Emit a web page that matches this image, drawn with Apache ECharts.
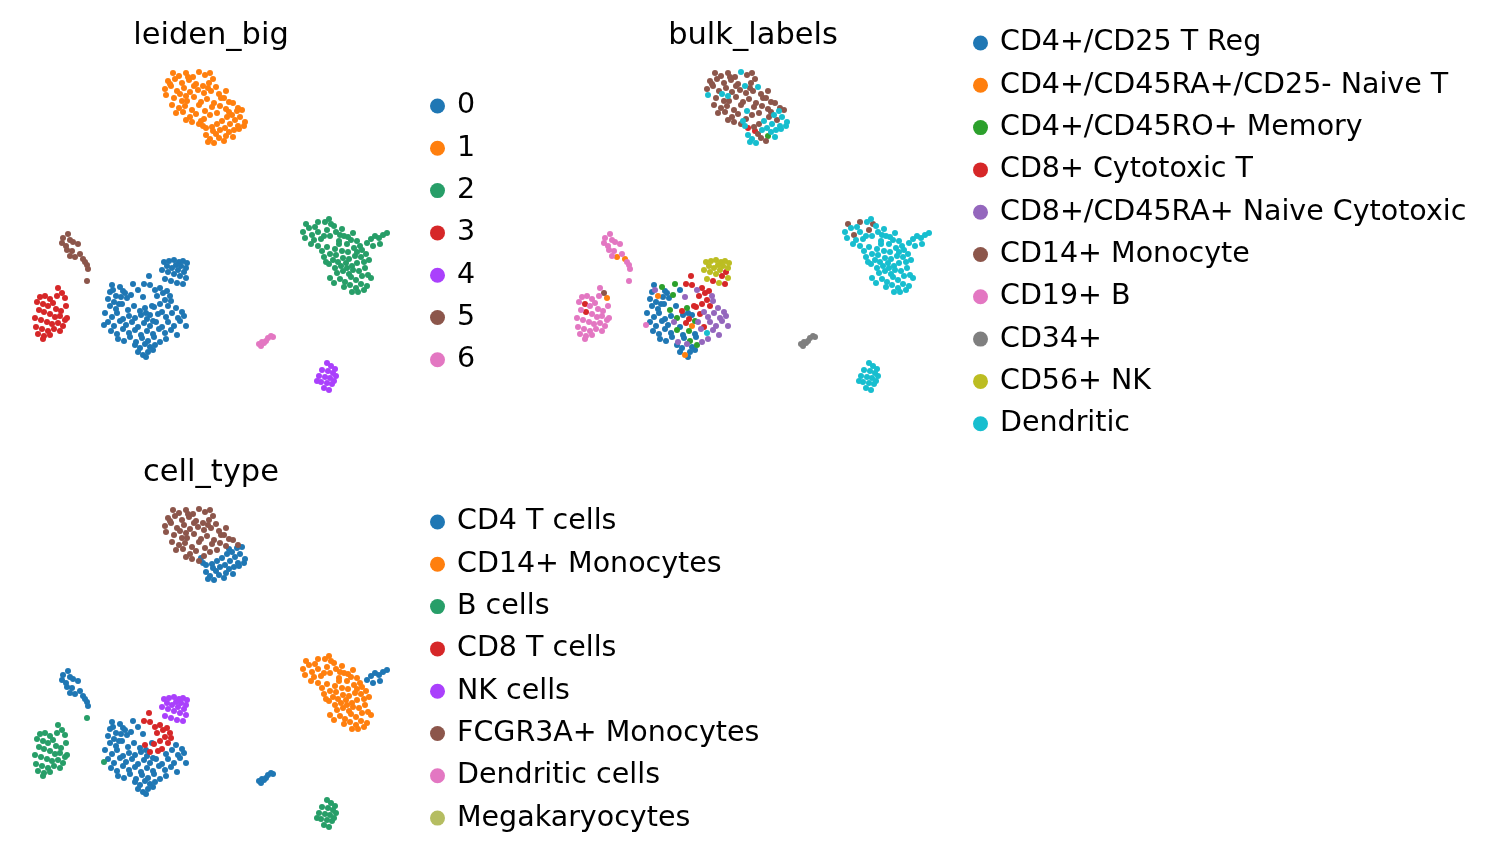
<!DOCTYPE html>
<html>
<head>
<meta charset="utf-8">
<script src="https://cdn.jsdelivr.net/npm/echarts@6/dist/echarts.min.js"></script>
<style>
  html, body { margin: 0; padding: 0; background: #fff; }
  #main { width: 1494px; height: 860px; }
</style>
</head>
<body>
<div id="main"></div>
<script>
// categories and colours of the three colourings
const leidenCats = ['0', '1', '2', '3', '4', '5', '6'];
const leidenColors = ['#1f77b4', '#ff7f0e', '#279e68', '#d62728', '#aa40fc', '#8c564b', '#e377c2'];
const bulkCats = ['CD4+/CD25 T Reg', 'CD4+/CD45RA+/CD25- Naive T', 'CD4+/CD45RO+ Memory', 'CD8+ Cytotoxic T',
  'CD8+/CD45RA+ Naive Cytotoxic', 'CD14+ Monocyte', 'CD19+ B', 'CD34+', 'CD56+ NK', 'Dendritic'];
const bulkColors = ['#1f77b4', '#ff7f0e', '#2ca02c', '#d62728', '#9467bd', '#8c564b', '#e377c2', '#7f7f7f', '#bcbd22', '#17becf'];
const cellCats = ['CD4 T cells', 'CD14+ Monocytes', 'B cells', 'CD8 T cells', 'NK cells',
  'FCGR3A+ Monocytes', 'Dendritic cells', 'Megakaryocytes'];
const cellColors = ['#1f77b4', '#ff7f0e', '#279e68', '#d62728', '#aa40fc', '#8c564b', '#e377c2', '#b5bd61'];

// cells per leiden cluster: [umap1, umap2, bulk label index, cell type index]
const cluster0 = [
  [164,262,8,4],[169,261,8,4],[174,260,8,4],[179,262,8,4],[183,261,8,4],[187,263,8,4],[176,265,8,4],[181,266,8,4],
  [186,268,8,4],[167,266,8,4],[172,268,8,4],[178,270,8,4],[184,272,3,4],[162,270,8,4],[168,272,8,4],[174,274,8,4],
  [180,276,3,4],[186,278,8,4],[171,281,3,4],[177,283,8,4],[183,284,3,4],[165,279,8,4],
  [149,276,3,3],[144,284,3,3],[150,285,3,3],[155,290,4,3],[160,288,3,3],[163,293,3,3],[167,291,3,3],[170,296,4,3],
  [157,296,3,3],[165,300,3,3],[160,304,3,3],[168,306,3,3],[154,307,3,3],[162,312,4,3],[158,314,3,3],[150,315,0,3],
  [145,308,2,3],[171,301,4,3],
  [112,285,0,0],[120,287,2,0],[123,291,0,0],[110,292,0,0],[113,290,4,0],[116,296,1,0],[121,297,0,0],[127,298,0,0],
  [108,299,0,0],[114,302,0,0],[119,304,0,0],[125,293,0,0],[131,295,2,0],[133,284,2,0],[143,297,4,0],[138,290,0,0],
  [110,306,0,0],[116,309,0,0],[122,304,0,0],[128,310,2,0],[134,306,0,0],[140,311,3,0],[146,313,0,0],[152,306,3,0],
  [176,308,4,0],[182,312,4,0],
  [105,313,0,0],[112,317,0,0],[117,313,0,0],[123,319,0,0],[129,316,0,0],[135,318,2,0],[141,315,0,0],[147,319,3,0],
  [153,321,2,0],[166,317,4,0],[172,313,4,0],[178,318,4,0],[184,316,4,0],
  [108,322,0,0],[114,326,0,0],[120,321,0,0],[126,325,0,0],[132,322,4,0],[138,327,0,0],[144,323,3,0],[150,326,1,0],
  [156,322,4,0],[162,327,3,0],[168,322,4,0],[174,326,4,0],[180,321,4,0],[186,326,4,0],
  [111,331,0,0],[117,334,0,0],[123,329,0,0],[129,333,0,0],[135,330,2,0],[141,335,0,0],[147,331,2,0],[153,334,0,0],
  [159,329,4,0],[165,333,9,0],[171,330,4,0],[177,335,4,0],
  [118,339,0,0],[124,341,0,0],[130,337,0,0],[136,342,4,0],[142,338,0,0],[148,341,2,0],[154,337,0,0],[160,342,4,0],
  [166,339,4,0],
  [135,345,0,0],[140,348,0,0],[145,344,4,0],[150,347,0,0],[155,345,2,0],[138,352,0,0],[143,355,1,0],[148,352,0,0],
  [153,350,0,0],[146,357,0,0],
  [104,325,6,2]
];
const cluster1 = [
  [173,73,5,5],[179,76,5,5],[186,73,5,5],[193,77,5,5],[199,72,9,5],[205,75,5,5],[210,73,5,5],[213,79,5,5],
  [168,81,5,5],[175,79,5,5],[182,83,5,5],[189,80,5,5],[196,84,5,5],[203,86,9,5],[209,83,5,5],[216,87,9,5],
  [165,89,5,5],[171,86,5,5],[177,91,5,5],[184,88,5,5],[190,92,5,5],[198,90,5,5],[204,93,5,5],[211,91,5,5],
  [219,94,5,5],[226,91,5,5],
  [166,95,9,5],[174,98,5,5],[180,94,9,5],[187,101,5,5],[194,97,5,5],[201,102,5,5],[207,99,5,5],[214,103,5,5],
  [221,98,5,5],[229,102,5,5],
  [172,105,5,5],[179,108,5,5],[186,96,9,5],[185,106,5,5],[192,110,5,5],[199,105,5,5],[205,111,9,5],[212,107,5,5],
  [220,106,5,5],[226,109,5,5],
  [176,113,5,5],[183,112,5,5],[190,117,5,5],[196,114,5,5],[204,119,5,5],[210,115,5,5],[217,113,5,5],
  [186,120,5,5],[192,122,5,5],[199,124,5,5],[233,103,5,5],[238,108,5,5],[170,84,5,5],[194,86,5,5],[182,101,5,5],
  [188,77,5,5],[208,88,5,5],[224,98,5,5],
  [203,126,9,0],[206,128,3,0],[212,127,5,0],[217,124,5,0],[222,121,9,0],[227,117,5,0],[232,115,9,0],[237,111,9,0],
  [242,110,5,0],[229,112,5,0],
  [206,135,9,0],[210,139,9,0],[213,131,3,0],[216,134,5,0],[220,130,9,0],[225,128,9,0],[230,124,9,0],[235,120,5,0],
  [240,117,9,0],[245,122,9,0],[238,126,9,0],
  [208,142,9,0],[214,143,9,0],[219,138,5,0],[226,136,2,0],[229,132,9,0],[234,130,9,0],[239,129,9,0],[244,126,9,0],
  [224,141,5,0],[233,137,9,0],[201,121,9,0]
];
const cluster2 = [
  [303,232,9,1],[305,238,9,1],[309,228,9,1],[312,235,5,1],[315,227,9,1],[318,232,9,1],[321,239,9,1],[325,222,9,1],
  [327,230,5,1],[330,236,9,1],[334,226,9,1],[336,232,9,1],[339,241,9,1],[342,229,9,1],[311,244,9,1],[318,246,9,1],
  [306,224,5,1],[318,222,5,1],[329,219,9,1],[331,224,5,1],[348,237,9,1],[324,236,9,1],[314,240,9,1],[340,235,9,1],
  [322,251,9,1],[327,247,9,1],[335,249,9,1],[339,244,9,1],[347,244,9,1],[351,240,9,1],[357,241,9,1],[344,236,9,1],
  [353,233,9,1],[360,246,9,1],
  [324,257,9,1],[330,254,9,1],[336,255,9,1],[342,251,9,1],[348,252,9,1],[354,248,9,1],[362,250,9,1],[333,260,9,1],
  [329,264,9,1],[338,262,9,1],[343,258,9,1],[349,259,9,1],[355,256,9,1],[361,257,9,1],[366,254,9,1],
  [335,268,9,1],[341,266,9,1],[346,263,9,1],[352,266,9,1],[357,263,9,1],[364,262,9,1],[369,260,9,1],
  [337,273,9,1],[343,271,9,1],[349,274,9,1],[353,270,9,1],[359,271,9,1],[365,268,9,1],
  [340,279,9,1],[345,282,9,1],[351,277,9,1],[356,280,9,1],[362,276,9,1],[368,275,9,1],[371,278,9,1],
  [344,287,9,1],[350,285,9,1],[356,288,9,1],[361,284,9,1],[367,286,9,1],[352,292,9,1],[358,292,9,1],[364,290,9,1],
  [334,283,9,1],[330,278,9,1],[326,262,9,1],[357,252,9,1],[347,268,9,1],
  [367,243,9,0],[371,239,9,0],[375,236,9,0],[379,238,9,0],[383,235,9,0],[387,233,9,0],[380,244,9,0],[373,246,9,0]
];
const cluster3 = [
  [58,288,6,2],[62,293,5,2],[65,298,1,2],[57,296,6,2],[40,297,6,2],[45,296,6,2],[50,299,6,2],[37,302,6,2],
  [43,304,3,2],[48,306,6,2],[53,303,6,2],[56,309,6,2],[61,311,6,2],[66,306,6,2],[39,310,6,2],[44,312,3,2],
  [50,314,6,2],[55,317,6,2],[60,316,6,2],[65,320,6,2],[35,318,6,2],[41,320,6,2],[47,322,6,2],[52,324,6,2],
  [58,323,6,2],[63,326,6,2],[36,327,6,2],[42,329,6,2],[48,331,6,2],[54,329,6,2],[60,331,6,2],[38,334,6,2],
  [44,336,6,2],[50,335,6,2],[43,339,6,2],[67,318,6,2]
];
const cluster4 = [
  [327,363,9,2],[331,366,9,2],[335,369,9,2],[322,370,9,2],[328,371,9,2],[333,373,9,2],[319,376,9,2],[325,377,9,2],
  [330,378,9,2],[336,376,9,2],[321,382,9,2],[327,383,9,2],[332,384,9,2],[324,388,9,2],[329,390,9,2],[317,381,9,2],
  [334,381,9,2]
];
const cluster5 = [
  [68,234,6,0],[63,238,6,0],[70,240,6,0],[62,243,6,0],[73,242,6,0],[66,246,6,0],[78,244,6,0],[67,250,6,0],
  [72,251,6,0],[70,256,6,0],[75,257,1,0],[80,254,6,0],[83,259,1,0],[85,262,6,0],[87,265,6,0],[88,269,6,0],
  [87,281,6,2]
];
const cluster6 = [
  [259,344,7,0],[261,346,7,0],[264,343,7,0],[266,341,7,0],[268,338,7,0],[271,336,7,0],[273,337,7,0],[262,342,7,0]
];

const clusters = [cluster0, cluster1, cluster2, cluster3, cluster4, cluster5, cluster6];
const cells = [];
clusters.forEach(function (pts, k) {
  pts.forEach(function (p) {
    cells.push({ x: p[0], y: p[1], leiden: k, bulk: p[2], cell: p[3] });
  });
});

const font = 'DejaVu Sans';

function panelSeries(cats, colors, key, idx) {
  return cats.map(function (name, i) {
    return {
      name: name,
      type: 'scatter',
      xAxisIndex: idx,
      yAxisIndex: idx,
      symbolSize: 6,
      itemStyle: { color: colors[i], opacity: 1 },
      emphasis: { disabled: true },
      data: cells.filter(function (c) { return c[key] === i; }).map(function (c) { return [c.x, c.y]; })
    };
  });
}

function legend(cats, left, top) {
  return {
    data: cats,
    orient: 'vertical',
    left: left,
    top: top,
    padding: 0,
    icon: 'circle',
    itemWidth: 15,
    itemHeight: 15,
    itemGap: 12.3,
    selectedMode: false,
    textStyle: { fontSize: 28.5, lineHeight: 30, color: '#000', fontFamily: font, padding: [0, 0, 0, 7] }
  };
}

function title(text, x, top) {
  return {
    text: text, left: x, top: top, textAlign: 'center', padding: 0,
    textStyle: { fontSize: 30.5, fontWeight: 'normal', color: '#000', fontFamily: font }
  };
}

let myChart = echarts.init(document.getElementById('main'));
let option = {
  animation: false,
  backgroundColor: '#fff',
  title: [title('leiden_big', 211, 21), title('bulk_labels', 753, 21), title('cell_type', 211, 458)],
  legend: [legend(leidenCats, 430, 91), legend(bulkCats, 973, 28), legend(cellCats, 430, 507)],
  grid: [
    { left: 20, top: 60, width: 380, height: 345 },
    { left: 562, top: 60, width: 380, height: 345 },
    { left: 20, top: 497, width: 380, height: 345 }
  ],
  xAxis: [0, 1, 2].map(function (i) { return { gridIndex: i, type: 'value', min: 20, max: 400, show: false }; }),
  yAxis: [0, 1, 2].map(function (i) { return { gridIndex: i, type: 'value', min: 60, max: 405, inverse: true, show: false }; }),
  series: [].concat(
    panelSeries(leidenCats, leidenColors, 'leiden', 0),
    panelSeries(bulkCats, bulkColors, 'bulk', 1),
    panelSeries(cellCats, cellColors, 'cell', 2)
  )
};
myChart.setOption(option);
</script>
</body>
</html>
